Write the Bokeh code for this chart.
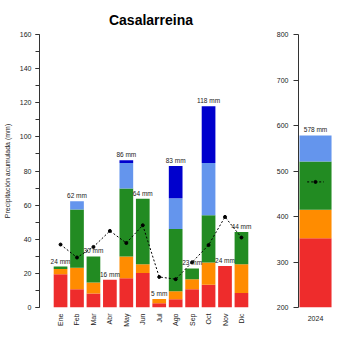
from bokeh.plotting import figure
from bokeh.layouts import row
from bokeh.models import FactorRange, Range1d, SingleIntervalTicker, ColumnDataSource
from bokeh.transform import dodge
from bokeh.core.properties import value
from bokeh.embed import file_html
from bokeh.resources import INLINE

# ---------------- data ----------------
months = ["Ene", "Feb", "Mar", "Abr", "May", "Jun", "Jul", "Ago", "Sep", "Oct", "Nov", "Dic"]
red    = [19.5, 10.7, 8.2, 16.3, 17.1, 20.2, 2.5, 4.9, 10.7, 13.4, 24.3, 8.5]
orange = [3.0, 12.6, 6.4, 0.0, 12.8, 5.2, 2.5, 4.6, 5.8, 13.0, 0.0, 16.9]
green  = [1.5, 34.1, 15.3, 0.0, 39.8, 38.4, 0.0, 36.5, 6.4, 27.6, 0.0, 18.9]
lblue  = [0.0, 4.8, 0.0, 0.0, 15.0, 0.0, 0.0, 18.0, 0.0, 30.7, 0.0, 0.0]
blue   = [0.0, 0.0, 0.0, 0.0, 1.6, 0.0, 0.0, 19.0, 0.0, 33.2, 0.0, 0.0]
normal = [36.9, 29.3, 35.5, 44.9, 37.8, 48.2, 17.9, 16.6, 26.5, 36.6, 53.1, 41.0]

year = ["2024"]
annual_red = [352]
annual_orange = [63]
annual_green = [106]
annual_lblue = [57]
annual_normal = [476]
annual_label = ["578 mm"]

colors = ["#EE2C2C", "#FF8C00", "#228B22", "#6495ED", "#0000CD"]
FONT = "Liberation Sans"

totals = [r + o + g + l + b for r, o, g, l, b in zip(red, orange, green, lblue, blue)]
labels = [f"{round(t)} mm" for t in totals]

src = ColumnDataSource(dict(month=months, red=red, orange=orange, green=green,
                            lblue=lblue, blue=blue, total=totals, label=labels,
                            normal=normal))

# ---------------- monthly panel ----------------
p = figure(width=270, height=350,
           x_range=FactorRange(factors=months, range_padding=0.78, range_padding_units="absolute"),
           y_range=Range1d(0, 160),
           output_backend="svg", toolbar_location=None,
           min_border_left=34, min_border_right=8, min_border_top=34, min_border_bottom=43,
           title="Casalarreina")
p.vbar_stack(["red", "orange", "green", "lblue", "blue"], x="month", width=0.833,
             color=colors, source=src, line_color=None)
p.line("month", "normal", source=src, line_color="black", line_dash="2 2", line_width=1)
p.scatter("month", "normal", source=src, size=3, color="black")
p.text(x="month", y="total", text="label", source=src, text_font=value(FONT),
       text_font_size="6.5px", text_align="center", text_baseline="bottom",
       y_offset=-2, text_color="#222222")

p.title.text_font = FONT
p.title.text_font_size = "14px"
p.title.text_font_style = "bold"
p.title.align = "center"
p.title.text_color = "black"
p.title.standoff = 13

p.xgrid.visible = False
p.ygrid.visible = False
p.outline_line_color = None

p.yaxis.ticker = SingleIntervalTicker(interval=20, num_minor_ticks=2)
p.yaxis.axis_label = "Precipitación acumulada (mm)"
p.yaxis.axis_label_text_font = FONT
p.yaxis.axis_label_text_font_size = "7px"
p.yaxis.axis_label_text_font_style = "normal"
p.yaxis.axis_label_text_color = "#222222"
p.yaxis.axis_label_standoff = 6
p.yaxis.major_label_text_font = FONT
p.yaxis.major_label_text_font_size = "7px"
p.yaxis.major_label_text_color = "#222222"
p.yaxis.major_label_orientation = "horizontal"
p.yaxis.major_label_standoff = 4
p.yaxis.major_tick_out = 4
p.yaxis.major_tick_in = 0
p.yaxis.minor_tick_out = 4
p.yaxis.minor_tick_in = 0
p.yaxis.axis_line_color = "#333333"
p.yaxis.major_tick_line_color = "#333333"
p.yaxis.minor_tick_line_color = "#333333"

p.xaxis.axis_line_color = None
p.xaxis.major_tick_line_color = None
p.xaxis.major_tick_out = 0
p.xaxis.major_tick_in = 0
p.xaxis.major_label_orientation = 3.14159265 / 2
p.xaxis.major_label_standoff = 6
p.xaxis.major_label_text_font = FONT
p.xaxis.major_label_text_font_size = "7px"
p.xaxis.major_label_text_color = "#222222"

# ---------------- annual panel ----------------
asrc = ColumnDataSource(dict(year=year, red=annual_red, orange=annual_orange,
                             green=annual_green, lblue=annual_lblue,
                             normal=annual_normal, label=annual_label,
                             total=[a + b + c + d for a, b, c, d in zip(annual_red, annual_orange, annual_green, annual_lblue)]))

q = figure(width=80, height=350,
           x_range=FactorRange(factors=year, range_padding=0.03, range_padding_units="absolute"),
           y_range=Range1d(200, 800),
           output_backend="svg", toolbar_location=None,
           min_border_left=28, min_border_right=18, min_border_top=34, min_border_bottom=43)
q.vbar_stack(["red", "orange", "green", "lblue"], x="year", width=1.0,
             color=colors[:4], source=asrc, line_color=None)
q.segment(x0=dodge("year", -0.26, range=q.x_range), y0="normal",
          x1=dodge("year", 0.26, range=q.x_range), y1="normal",
          source=asrc, line_color="black", line_dash="2 2", line_width=1)
q.scatter("year", "normal", source=asrc, size=3, color="black")
q.text(x="year", y="total", text="label", source=asrc, text_font=value(FONT),
       text_font_size="6.5px", text_align="center", text_baseline="bottom",
       y_offset=-3, text_color="#222222")

q.xgrid.visible = False
q.ygrid.visible = False
q.outline_line_color = None
q.yaxis.ticker = SingleIntervalTicker(interval=100, num_minor_ticks=0)
q.yaxis.major_label_text_font = FONT
q.yaxis.major_label_text_font_size = "7px"
q.yaxis.major_label_text_color = "#222222"
q.yaxis.major_label_standoff = 5
q.yaxis.major_tick_out = 5
q.yaxis.major_tick_in = 0
q.yaxis.minor_tick_line_color = None
q.yaxis.axis_line_color = "#333333"
q.yaxis.major_tick_line_color = "#333333"

q.xaxis.axis_line_color = None
q.xaxis.major_tick_line_color = None
q.xaxis.major_tick_out = 0
q.xaxis.major_tick_in = 0
q.xaxis.major_label_standoff = 8
q.xaxis.major_label_text_font = FONT
q.xaxis.major_label_text_font_size = "7px"
q.xaxis.major_label_text_color = "#222222"

layout = row(p, q)
open("out.html", "w").write(file_html(layout, INLINE))
